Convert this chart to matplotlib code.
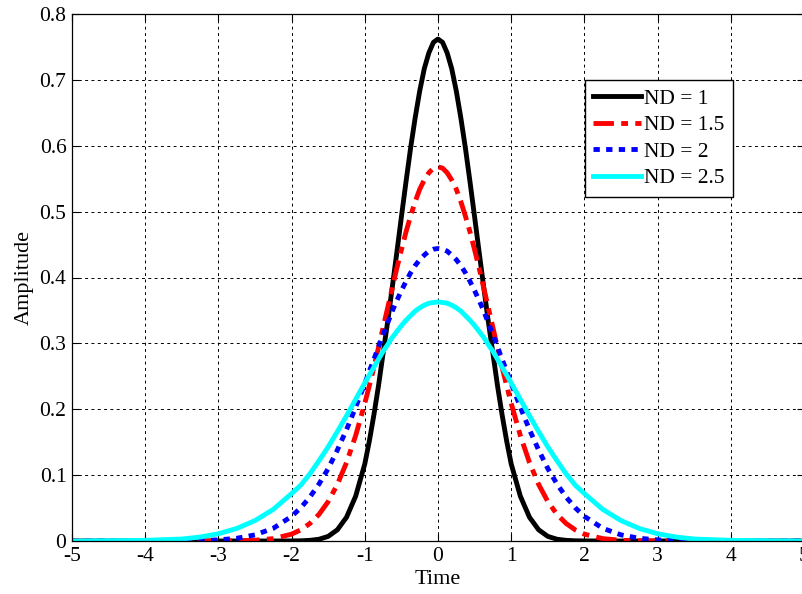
import matplotlib.pyplot as plt
import numpy as np

# time samples (symmetric)
t_half = [0, 0.0625, 0.125, 0.1875, 0.25, 0.3125, 0.375, 0.4375, 0.5, 0.5625,
          0.625, 0.6875, 0.75, 0.8125, 0.875, 0.9375, 1.0, 1.125, 1.25,
          1.375, 1.5, 1.625, 1.75, 1.875, 2.0, 2.25, 2.5, 2.75, 3.0, 3.25,
          3.5, 4.0, 5.0]

nd1 = [0.762, 0.757, 0.741, 0.717, 0.683, 0.642, 0.596, 0.545, 0.492, 0.438,
       0.385, 0.333, 0.285, 0.236, 0.192, 0.152, 0.117, 0.068, 0.036, 0.017,
       0.007, 0.0027, 0.001, 0.0003, 0.0001, 0, 0, 0, 0, 0, 0, 0, 0]
nd15 = [0.568, 0.566, 0.559, 0.548, 0.534, 0.515, 0.493, 0.469, 0.442, 0.414,
        0.384, 0.354, 0.324, 0.294, 0.264, 0.236, 0.209, 0.160, 0.119,
        0.0858, 0.0599, 0.0405, 0.0266, 0.0169, 0.0104, 0.0036, 0.0011,
        0.0003, 0.0001, 0, 0, 0, 0]
nd2 = [0.444, 0.443, 0.440, 0.434, 0.427, 0.418, 0.407, 0.394, 0.380, 0.365,
       0.349, 0.331, 0.313, 0.295, 0.276, 0.258, 0.239, 0.203, 0.169, 0.138,
       0.110, 0.0866, 0.0667, 0.0504, 0.0374, 0.0193, 0.0093, 0.0041, 0.0017,
       0.0006, 0.0002, 0, 0]
nd25 = [0.363, 0.362, 0.361, 0.358, 0.354, 0.349, 0.342, 0.335, 0.327, 0.318,
        0.309, 0.298, 0.288, 0.276, 0.264, 0.252, 0.240, 0.215, 0.190, 0.166,
        0.143, 0.122, 0.102, 0.0847, 0.072, 0.048, 0.031, 0.019, 0.011, 0.006,
        0.003, 0.001, 0]

labels = ['ND = 1', 'ND = 1.5', 'ND = 2', 'ND = 2.5']
xticks = [-5, -4, -3, -2, -1, 0, 1, 2, 3, 4, 5]
yticks = [0, 0.1, 0.2, 0.3, 0.4, 0.5, 0.6, 0.7, 0.8]
ytick_labels = ['0', '0.1', '0.2', '0.3', '0.4', '0.5', '0.6', '0.7', '0.8']


def mirror(vals):
    # curves are symmetric around t = 0
    return list(vals[:0:-1]) + list(vals)


t = [-v for v in t_half[:0:-1]] + t_half

plt.rcParams['font.family'] = ['Liberation Serif', 'DejaVu Serif']
plt.rcParams['axes.unicode_minus'] = False

fig = plt.figure(figsize=(8.03, 5.94), dpi=100)
ax = fig.add_axes([72 / 803, 53 / 594, 732 / 803, 527 / 594])

lw = 3.5
ax.plot(t, mirror(nd1), color='k', lw=lw, ls='-', label=labels[0])
ax.plot(t, mirror(nd15), color='#ff0000', lw=lw, ls=(0, (4.2, 1.5, 1.4, 1.5)),
        label=labels[1])
ax.plot(t, mirror(nd2), color='#0000ff', lw=lw, ls=(0, (1.3, 1.3)),
        label=labels[2])
ax.plot(t, mirror(nd25), color='#00ffff', lw=lw, ls='-', label=labels[3])

ax.set_xlim(-5, 5)
ax.set_ylim(0, 0.8)
ax.set_xticks(xticks)
ax.set_xticklabels([str(v) for v in xticks])
ax.set_yticks(yticks)
ax.set_yticklabels(ytick_labels)
ax.tick_params(direction='in', length=5, width=0.8, labelsize=15.5,
               top=True, right=True, pad=4)
ax.grid(True, color='k', ls=(0, (3, 3.5)), lw=0.7)
for s in ax.spines.values():
    s.set_linewidth(0.9)

ax.set_xlabel('Time', fontsize=16, labelpad=3)
ax.set_ylabel('Amplitude', fontsize=16, labelpad=4)

leg = ax.legend(loc='upper right', bbox_to_anchor=(0.903, 0.875),
                fontsize=15.5, fancybox=False, framealpha=1, edgecolor='k',
                handlelength=2.2, handletextpad=0.15, labelspacing=0.3,
                borderpad=0.4, borderaxespad=0)
leg.get_frame().set_linewidth(1.0)

fig.savefig('out.png', dpi=100)
